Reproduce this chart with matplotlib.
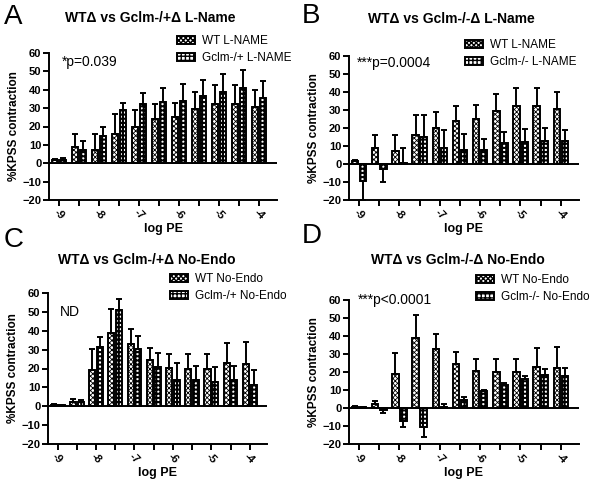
import numpy as np
import matplotlib
matplotlib.use("Agg")
import matplotlib.pyplot as plt

plt.rcParams['font.family'] = ['Liberation Sans', 'DejaVu Sans']

log_pe = [-9, -8.5, -8, -7.5, -7, -6.5, -6, -5.5, -5, -4.5, -4]
tick_labels = ['-9', '-8', '-7', '-6', '-5', '-4']

# Panel A
wt_lname = [1.5, 9, 7, 16, 20, 24, 25, 29.5, 32, 32, 30.5]
wt_lname_err = [1.0, 7, 9, 11, 9, 8.5, 8, 9.5, 10.5, 10.5, 9.5]
het_lname = [1.5, 7, 15, 29, 32, 33.5, 34, 36.5, 39, 41, 35.5]
het_lname_err = [1.5, 5, 5, 4, 6.5, 7.5, 9, 9, 9.5, 9.5, 9.5]
# Panel B
ko_lname = [-9.5, -3, 0.5, 15, 9, 8, 8, 11.5, 12.5, 13, 13]
ko_lname_err = [10.5, 7, 8.5, 12, 10, 8.5, 6, 6.5, 7, 7, 6]
# Panel C
wt_noendo = [0.8, 2.5, 19, 39, 33, 24.5, 20.5, 20, 20, 23, 22.5]
wt_noendo_err = [0.3, 1.5, 11.5, 12.5, 8, 6.5, 7, 7.5, 7.5, 10.5, 11.5]
het_noendo = [0.5, 2.5, 31.5, 51, 30.5, 21, 14, 14, 13, 14, 11.5]
het_noendo_err = [0.2, 1.0, 5, 6, 6.5, 7, 9, 7.5, 8, 7.5, 7.5]
# Panel D
ko_noendo = [0.3, -1, -7, -10.5, 0.5, 4.5, 9.5, 13, 16, 18.5, 18]
ko_noendo_err = [0.2, 1.5, 3.5, 5.5, 2, 1.5, 0.5, 1, 2, 3, 4.5]

W, H = 602.0, 491.0
def fx(px): return px / W
def fy(py): return 1 - py / H

panels = [
    ('A', 'WT\u0394 vs Gclm-/+\u0394 L-Name', wt_lname, wt_lname_err, het_lname, het_lname_err,
     'WT L-NAME', 'Gclm-/+ L-NAME', '*p=0.039',
     (49, 53, 277, 200), (4, 17), (150, 18), (177, 35), (62, 62)),
    ('B', 'WT\u0394 vs Gclm-/-\u0394 L-Name', wt_lname, wt_lname_err, ko_lname, ko_lname_err,
     'WT L-NAME', 'Gclm-/- L-NAME', '***p=0.0004',
     (349, 56, 579, 200), (302, 16), (451, 19), (465, 39), (357, 63)),
    ('C', 'WT\u0394 vs Gclm-/+\u0394 No-Endo', wt_noendo, wt_noendo_err, het_noendo, het_noendo_err,
     'WT No-Endo', 'Gclm-/+ No-Endo', 'ND',
     (48, 293, 267, 444), (4, 240), (147, 260), (170, 273), (60, 312)),
    ('D', 'WT\u0394 vs Gclm-/-\u0394 No-Endo', wt_noendo, wt_noendo_err, ko_noendo, ko_noendo_err,
     'WT No-Endo', 'Gclm-/- No-Endo', '***p<0.0001',
     (349, 300, 579, 444), (302, 236), (458, 260), (476, 274), (358, 300)),
]

fig = plt.figure(figsize=(6.02, 4.91), dpi=100)
x = np.array(log_pe)
w = 0.16
off = 0.10
LW = 1.4

def one_sided(vals, errs):
    v = np.array(vals); e = np.array(errs)
    lower = np.where(v < 0, e, 0)
    upper = np.where(v >= 0, e, 0)
    return [lower, upper]

for (letter, title, y1, e1, y2, e2, l1, l2, ptxt,
     axpx, letpx, titpx, legpx, ppx) in panels:
    l, t, r, b = axpx
    ax = fig.add_axes([fx(l), fy(b), fx(r) - fx(l), fy(t) - fy(b)])
    with plt.rc_context({'hatch.linewidth': 0.6}):
        b1 = ax.bar(x - off, y1, w, facecolor='white', edgecolor='black', linewidth=LW,
                    hatch='xxxxxxx', label=l1, zorder=2)
    with plt.rc_context({'hatch.linewidth': 1.5}):
        b2 = ax.bar(x + off, y2, w, facecolor='white', edgecolor='black', linewidth=LW,
                    hatch='++++', label=l2, zorder=2)
    ax.errorbar(x - off, y1, yerr=one_sided(y1, e1), fmt='none', ecolor='black',
                elinewidth=LW, capsize=2.5, capthick=LW, zorder=3)
    ax.errorbar(x + off, y2, yerr=one_sided(y2, e2), fmt='none', ecolor='black',
                elinewidth=LW, capsize=2.5, capthick=LW, zorder=3)
    ax.axhline(0, color='black', linewidth=LW, zorder=4)
    ax.set_xlim(-9.25, -3.55)
    ax.set_ylim(-20, 60)
    ax.set_yticks(np.arange(-20, 61, 10))
    ax.set_xticks(x)
    ax.set_xticklabels([tick_labels[i // 2] if i % 2 == 0 else '' for i in range(len(x))],
                       rotation=-45, ha='center', va='top', fontsize=8, fontweight='bold')
    for lab in ax.get_yticklabels():
        lab.set_fontweight('bold'); lab.set_fontsize(8)
    ax.tick_params(axis='both', direction='out', length=4, width=LW, pad=1.5)
    for s in ['top', 'right']:
        ax.spines[s].set_visible(False)
    for s in ['left', 'bottom']:
        ax.spines[s].set_linewidth(LW)
    ax.set_ylabel('%KPSS contraction', fontsize=8.5, fontweight='bold', labelpad=2)
    ax.set_xlabel('log PE', fontsize=9, fontweight='bold', labelpad=1)
    fig.text(fx(ppx[0]), fy(ppx[1]), ptxt, fontsize=10, ha='left', va='center')
    fig.legend(handles=[b1, b2], labels=[l1, l2], loc='upper left',
               bbox_to_anchor=(fx(legpx[0]), fy(legpx[1])), frameon=False, fontsize=8.5,
               handlelength=1.5, handleheight=0.7, handletextpad=0.6, labelspacing=0.45,
               borderpad=0, borderaxespad=0)
    fig.text(fx(titpx[0]), fy(titpx[1]), title, fontsize=10, fontweight='bold',
             ha='center', va='center')
    fig.text(fx(letpx[0]), fy(letpx[1]), letter, fontsize=20, ha='left', va='center')

fig.savefig('out.png', dpi=100)
